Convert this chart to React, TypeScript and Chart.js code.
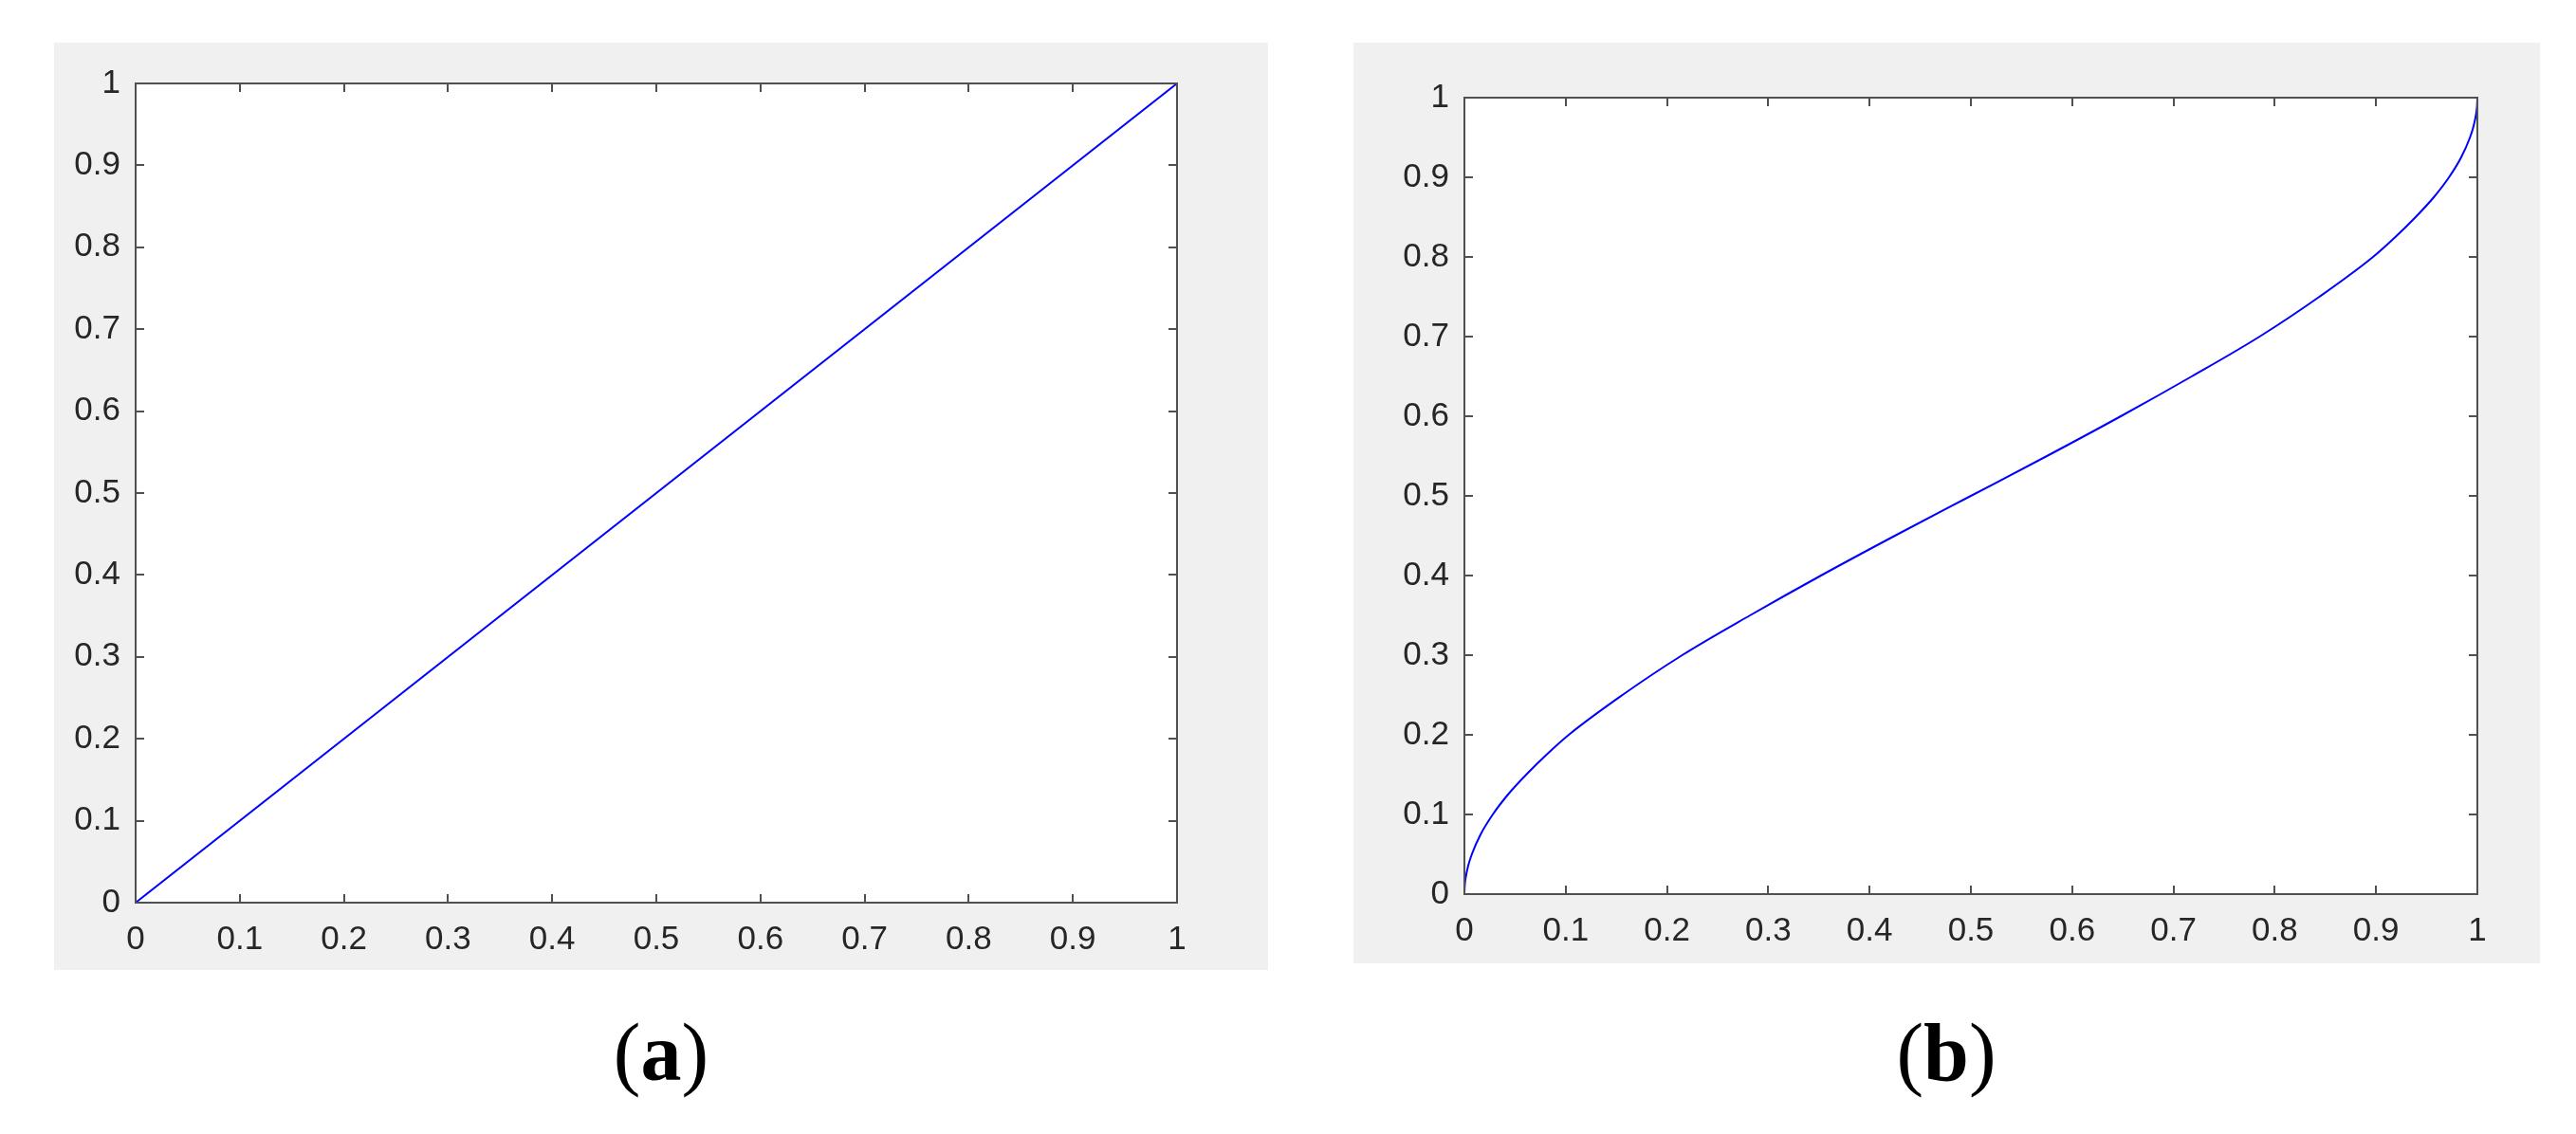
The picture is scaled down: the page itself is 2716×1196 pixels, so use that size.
import React, { useEffect, useRef } from "react";
import { Chart, registerables } from "chart.js";

Chart.register(...registerables);

// ---------- data ----------
const tickValues = [0, 0.1, 0.2, 0.3, 0.4, 0.5, 0.6, 0.7, 0.8, 0.9, 1];
const tickLabels = ["0", "0.1", "0.2", "0.3", "0.4", "0.5", "0.6", "0.7", "0.8", "0.9", "1"];

// panel (a): straight line
const lineAX = [0, 1];
const lineAY = [0, 1];

// panel (b): S-shaped curve
const curveBX = [0, 0.0003, 0.0012, 0.0036, 0.0073, 0.016, 0.028, 0.043, 0.061, 0.081, 0.103, 0.156, 0.215, 0.282, 0.352, 0.425, 0.5, 0.575, 0.648, 0.718, 0.785, 0.844, 0.897, 0.919, 0.939, 0.957, 0.972, 0.984, 0.9927, 0.9964, 0.9988, 0.9997, 1];
const curveBY = [0, 0.01, 0.02, 0.035, 0.05, 0.075, 0.1, 0.125, 0.15, 0.175, 0.2, 0.25, 0.3, 0.35, 0.4, 0.45, 0.5, 0.55, 0.6, 0.65, 0.7, 0.75, 0.8, 0.825, 0.85, 0.875, 0.9, 0.925, 0.95, 0.965, 0.98, 0.99, 1];

const panelLabels = ["a", "b"];

// ---------- styles ----------
const PANEL_BG = "#f0f0f0";
const AXIS_COLOR = "#505050";
const TEXT_COLOR = "#262626";
const LINE_COLOR = "#0000ff";
const TICK_FONT = { family: "'Liberation Sans', Arial, sans-serif", size: 35 };

const boxPlugin = {
  id: "matlabBox",
  beforeDraw(chart: any) {
    const { ctx, chartArea: a, width, height } = chart;
    ctx.save();
    ctx.fillStyle = PANEL_BG;
    ctx.fillRect(0, 0, width, height);
    ctx.fillStyle = "#ffffff";
    ctx.fillRect(a.left, a.top, a.right - a.left, a.bottom - a.top);
    ctx.restore();
  },
  afterDatasetsDraw(chart: any) {
    const { ctx, chartArea: a, scales } = chart;
    const xs = scales.x;
    const ys = scales.y;
    const tl = 9;
    ctx.save();
    ctx.strokeStyle = AXIS_COLOR;
    ctx.lineWidth = 2;
    ctx.beginPath();
    xs.ticks.forEach((t: any) => {
      const px = Math.round(xs.getPixelForValue(t.value));
      ctx.moveTo(px, a.bottom);
      ctx.lineTo(px, a.bottom - tl);
      ctx.moveTo(px, a.top);
      ctx.lineTo(px, a.top + tl);
    });
    ys.ticks.forEach((t: any) => {
      const py = Math.round(ys.getPixelForValue(t.value));
      ctx.moveTo(a.left, py);
      ctx.lineTo(a.left + tl, py);
      ctx.moveTo(a.right, py);
      ctx.lineTo(a.right - tl, py);
    });
    ctx.stroke();
    ctx.strokeRect(a.left, a.top, a.right - a.left, a.bottom - a.top);
    ctx.restore();
  },
};

type PanelProps = {
  xs: number[];
  ys: number[];
  left: number;
  top: number;
  width: number;
  height: number;
  yAxisWidth: number;
  xAxisHeight: number;
  padTop: number;
  padRight: number;
  smooth: boolean;
};

function Panel(p: PanelProps) {
  const ref = useRef<HTMLCanvasElement | null>(null);
  useEffect(() => {
    if (!ref.current) return;
    const data = p.xs.map((x, i) => ({ x, y: p.ys[i] }));
    const common = {
      type: "linear",
      min: 0,
      max: 1,
      grid: { display: false, drawTicks: false },
      border: { display: false },
      afterBuildTicks: (s: any) => {
        s.ticks = tickValues.map((v) => ({ value: v }));
      },
    };
    const chart = new Chart(ref.current, {
      type: "line",
      data: {
        datasets: [
          {
            data,
            borderColor: LINE_COLOR,
            borderWidth: 2,
            pointRadius: 0,
            fill: false,
            cubicInterpolationMode: p.smooth ? "monotone" : "default",
            tension: 0,
          },
        ],
      },
      options: {
        animation: false,
        responsive: false,
        devicePixelRatio: 1,
        layout: { padding: { top: p.padTop, right: p.padRight, left: 0, bottom: 0 } },
        plugins: { legend: { display: false }, tooltip: { enabled: false } },
        scales: {
          x: {
            ...common,
            position: "bottom",
            ticks: {
              padding: 18,
              color: TEXT_COLOR,
              font: TICK_FONT,
              maxRotation: 0,
              autoSkip: false,
              callback: (_v: any, i: number) => tickLabels[i],
            },
            afterFit: (s: any) => {
              s.height = p.xAxisHeight;
              s.paddingLeft = 0;
              s.paddingRight = 0;
            },
          },
          y: {
            ...common,
            position: "left",
            ticks: {
              padding: 16,
              color: TEXT_COLOR,
              font: TICK_FONT,
              autoSkip: false,
              callback: (_v: any, i: number) => tickLabels[i],
            },
            afterFit: (s: any) => {
              s.width = p.yAxisWidth;
              s.paddingTop = 0;
              s.paddingBottom = 0;
            },
          },
        },
      } as any,
      plugins: [boxPlugin],
    } as any);
    return () => chart.destroy();
  }, []);
  return (
    <canvas
      ref={ref}
      width={p.width}
      height={p.height}
      style={{ position: "absolute", left: p.left, top: p.top, width: p.width, height: p.height, background: PANEL_BG }}
    />
  );
}

function PanelLabel({ letter, center }: { letter: string; center: number }) {
  return (
    <div
      style={{
        position: "absolute",
        left: center - 150,
        top: 1067,
        width: 300,
        textAlign: "center",
        fontFamily: "'Liberation Serif', 'Times New Roman', serif",
        fontSize: 86,
        lineHeight: "86px",
        color: "#000",
      }}
    >
      (<b>{letter}</b>)
    </div>
  );
}

export default function App() {
  return (
    <div style={{ position: "absolute", left: 0, top: 0, width: 2716, height: 1196, background: "#fff", overflow: "hidden" }}>
      <Panel xs={lineAX} ys={lineAY} left={57} top={45} width={1280} height={978} yAxisWidth={86} xAxisHeight={71} padTop={43} padRight={96} smooth={false} />
      <Panel xs={curveBX} ys={curveBY} left={1427} top={45} width={1251} height={971} yAxisWidth={117} xAxisHeight={73} padTop={58} padRight={66} smooth={true} />
      <PanelLabel letter={panelLabels[0]} center={697} />
      <PanelLabel letter={panelLabels[1]} center={2052} />
    </div>
  );
}
